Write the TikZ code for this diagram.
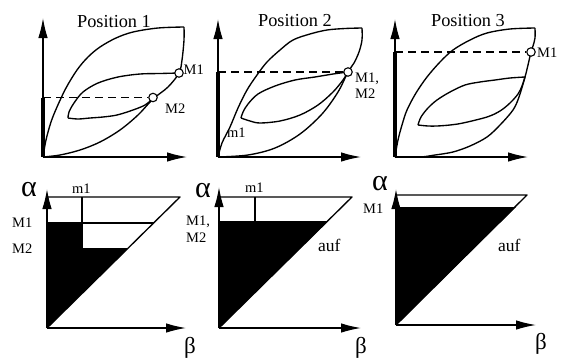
\documentclass[tikz,border=0pt]{standalone}
\usepackage{fontspec}
\setmainfont{Liberation Serif}
\usetikzlibrary{arrows.meta}
\begin{document}
\begin{tikzpicture}[x=1pt,y=-1pt,
  curve/.style={line width=1.35pt, line join=round},
  axis/.style={line width=1.35pt, -{Latex[length=20pt,width=9.5pt]}},
  bar/.style={line width=3.8pt},
  dsh/.style={line width=1.3pt, dash pattern=on 8pt off 5pt},
  mk/.style={circle, draw, fill=white, inner sep=0pt, minimum size=8.5pt, line width=1.1pt},
  ttl/.style={font=\fontsize{18.3}{20}\selectfont, inner sep=0pt, anchor=base},
  lbl/.style={font=\fontsize{14.5}{15}\selectfont, inner sep=0pt, anchor=base west},
  auf/.style={font=\fontsize{17.5}{18}\selectfont, inner sep=0pt, anchor=base west},
  gra/.style={font=\fontsize{30}{32}\selectfont, inner sep=0pt, anchor=base west},
  grb/.style={font=\fontsize{23}{24}\selectfont, inner sep=0pt, anchor=base west},
  sm/.style={smooth, tension=0.55}]
\useasboundingbox (0,0) rectangle (563,360);

% ---------------- Panel 1 (top left) ----------------
\coordinate (o1) at (43,157);
\coordinate (y1) at (43,18);
\coordinate (x1) at (187,157);
\coordinate (b1) at (43,97.5);
\draw[curve] plot[sm] coordinates {(43,157) (46,140) (51,122) (57,107) (66,88) (77,70) (88,57) (100,47) (116,38) (133,32) (158,28) (184,27)};
\draw[curve] plot[sm] coordinates {(184,27) (184,40) (182,60) (179,73) (168,87) (153,99) (138,115) (120,130) (100,142) (80,150) (60,155) (43,157)};
\draw[curve] plot[sm] coordinates {(179,73) (160,73.5) (140,74) (118,77) (98,83) (83,92) (74,103) (69,112) (68,118)};
\draw[curve] plot[sm] coordinates {(68,118) (78,119) (90,118) (103,117) (117,115) (133,110) (145,105) (153,98.5)};
\node[mk] (p1m1) at (179,73) {};
\node[mk] (p1m2) at (153,97.5) {};
\draw[dsh] (b1) -- (p1m2.west);
\draw[bar] (b1) -- (o1);
\draw[axis] (o1) -- (y1);
\draw[axis] (o1) -- (x1);
\node[ttl] (t1) at (114,27) {Position 1};
\node[lbl] (l1a) at (183.5,74) {M1};
\node[lbl] (l1b) at (165,113) {M2};

% ---------------- Panel 2 (top middle) ----------------
\coordinate (o2) at (218,157);
\coordinate (y2) at (218,19);
\coordinate (x2) at (361,157);
\coordinate (b2) at (218,72);
\draw[curve] plot[sm] coordinates {(218,157) (222,143) (230,127) (238,108) (247,90) (257,75) (267,62) (280,50) (293,40) (310,34) (327,30) (345,28.5) (362,28)};
\draw[curve] plot[sm] coordinates {(362,28) (362,40) (359,52) (354,63) (348,72) (338,92) (322,114) (300,134) (275,148) (248,155) (218,157)};
\draw[curve] plot[sm] coordinates {(348,72) (333,74) (315,77) (295,80) (275,86) (258,94) (248,104) (243,112) (241,118)};
\draw[curve] plot[sm] coordinates {(241,118) (250,121) (260,123) (280,121) (300,115) (318,105) (333,92) (343,80) (348,72)};
\node[mk] (p2m) at (348,72) {};
\draw[dsh] (b2) -- (p2m.west);
\draw[bar] (b2) -- (o2);
\draw[axis] (o2) -- (y2);
\draw[axis] (o2) -- (x2);
\node[ttl] (t2) at (295,26) {Position 2};
\node[lbl] (l2a) at (355,82) {M1,};
\node[lbl] (l2b) at (355,98) {M2};
\node[lbl] (l2c) at (227,137) {m1};

% ---------------- Panel 3 (top right) ----------------
\coordinate (o3) at (395,157);
\coordinate (y3) at (395,19);
\coordinate (x3) at (528,157);
\coordinate (b3) at (395,52);
\draw[curve] plot[sm] coordinates {(395,157) (398,140) (402,125) (407,110) (416,93) (427,77) (440,62) (453,50) (470,40) (487,33) (510,29) (535,28)};
\draw[curve] plot[sm] coordinates {(535,28) (535,38) (533,46) (531,52) (528,65) (525,77) (519,97) (513,110) (500,125) (487,137) (470,146) (453,152) (435,155) (420,157) (395,157)};
\draw[curve] plot[sm] coordinates {(525,77) (510,78) (495,80) (480,82) (465,85) (450,92) (437,100) (428,108) (421,117) (418,125)};
\draw[curve] plot[sm] coordinates {(418,125) (428,126) (437,126) (450,125) (463,123) (487,117) (500,111) (510,103) (518,94) (522,86) (525,77)};
\node[mk] (p3m) at (531,52) {};
\draw[dsh] (b3) -- (p3m.west);
\draw[bar] (b3) -- (o3);
\draw[axis] (o3) -- (y3);
\draw[axis] (o3) -- (x3);
\node[ttl] (t3) at (468,26) {Position 3};
\node[lbl] (l3a) at (537,57) {M1};

% ---------------- Panel 4 (bottom left) ----------------
\coordinate (o4) at (47,328);
\coordinate (y4) at (47,189);
\coordinate (x4) at (186,328);
\coordinate (c4) at (180,197);
\coordinate (a4) at (47,197);
\fill (47,223) -- (82,223) -- (82,249) -- (127,249) -- (o4) -- cycle;
\draw[curve] (a4) -- (c4) -- (o4);
\draw[curve] (47,223) -- (154,223);
\draw[curve] (82,197) -- (82,249) -- (127,249);
\draw[axis] (o4) -- (y4);
\draw[axis] (o4) -- (x4);
\node[gra] (g4a) at (21,196) {α};
\node[lbl] (l4c) at (72,193) {m1};
\node[lbl] (l4a) at (12,227) {M1};
\node[lbl] (l4b) at (12,253) {M2};
\node[grb] (g4b) at (184,353) {β};

% ---------------- Panel 5 (bottom middle) ----------------
\coordinate (o5) at (219,328);
\coordinate (y5) at (219,187);
\coordinate (x5) at (361,328);
\coordinate (c5) at (352,197);
\coordinate (a5) at (219,197);
\fill (219,222) -- (327,222) -- (o5) -- cycle;
\draw[curve] (a5) -- (c5) -- (o5);
\draw[curve] (219,222) -- (327,222);
\draw[curve] (255,197) -- (255,222);
\draw[axis] (o5) -- (y5);
\draw[axis] (o5) -- (x5);
\node[gra] (g5a) at (195,197) {α};
\node[lbl] (l5c) at (245,192) {m1};
\node[lbl] (l5a) at (186,225) {M1,};
\node[lbl] (l5b) at (186,242) {M2};
\node[auf] (l5d) at (318,251) {auf};
\node[grb] (g5b) at (355,353) {β};

% ---------------- Panel 6 (bottom right) ----------------
\coordinate (o6) at (396,325);
\coordinate (y6) at (396,189);
\coordinate (x6) at (536,325);
\coordinate (c6) at (527,195);
\coordinate (a6) at (396,195);
\fill (396,207) -- (516,207) -- (o6) -- cycle;
\draw[curve] (a6) -- (c6) -- (o6);
\draw[axis] (o6) -- (y6);
\draw[axis] (o6) -- (x6);
\node[gra] (g6a) at (372,190) {α};
\node[lbl] (l6a) at (363,213) {M1};
\node[auf] (l6d) at (498,251) {auf};
\node[grb] (g6b) at (535,349) {β};
\end{tikzpicture}
\end{document}
